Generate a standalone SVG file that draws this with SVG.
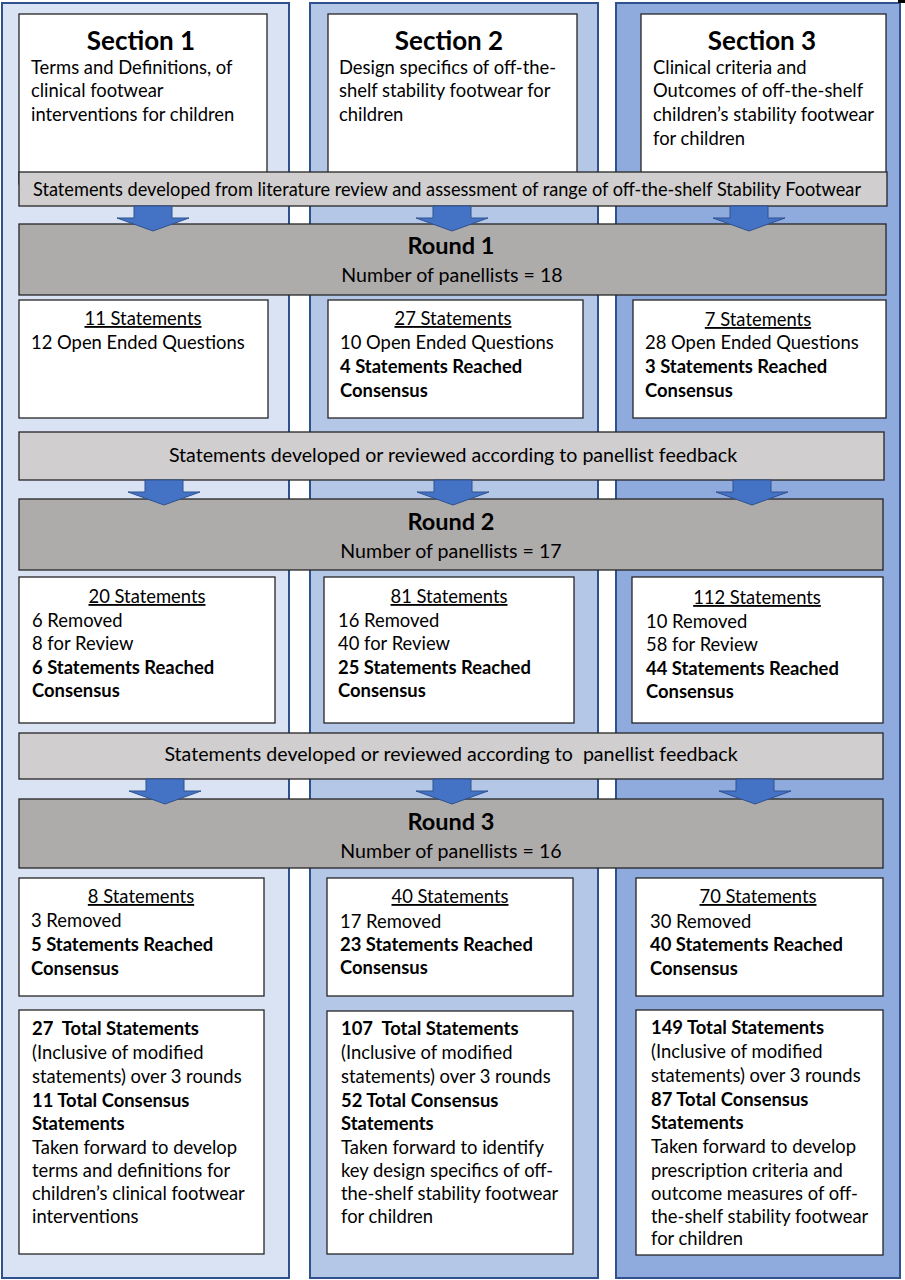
<svg xmlns="http://www.w3.org/2000/svg" width="905" height="1280" viewBox="0 0 905 1280">
<style>
.col{stroke:#2f528f;stroke-width:2}
.c1{fill:#dae3f3}.c2{fill:#b4c7e7}.c3{fill:#8faadc}
.box{fill:#fff;stroke:#262626;stroke-width:1.3}
.bar{fill:#d0cece;stroke:#262626;stroke-width:1.3}
.rnd{fill:#aeabab;stroke:#262626;stroke-width:1.3}
.arr{fill:#4472c4;stroke:#2f528f;stroke-width:1}
text{font-family:Lato,"Open Sans","Liberation Sans",sans-serif;font-size:18.4px;fill:#000}
.b{font-weight:bold}
.h{font-size:26px;font-weight:bold}
.r{font-size:23.5px;font-weight:bold}
.p{font-size:19.6px}
.u{text-decoration:underline}
.m{text-anchor:middle}
</style>
<g id="columns">
<rect class="col c1" x="2" y="3" width="287" height="1275"/>
<rect class="col c2" x="310" y="3" width="288" height="1275"/>
<rect class="col c3" x="616" y="3" width="284" height="1275"/>
<rect x="898" y="0" width="7" height="3" fill="#000"/>
</g>
<g id="section1">
<rect class="box" x="19" y="14" width="248" height="170"/>
<text class="h m" x="141" y="50">Section 1</text>
<text x="31" y="74">Terms and Definitions, of</text>
<text x="31" y="97">clinical footwear</text>
<text x="31" y="121">interventions for children</text>
</g>
<g id="section2">
<rect class="box" x="328" y="14" width="249" height="170"/>
<text class="h m" x="449" y="50">Section 2</text>
<text x="339" y="74">Design specifics of off-the-</text>
<text x="339" y="97">shelf stability footwear for</text>
<text x="339" y="121">children</text>
</g>
<g id="section3">
<rect class="box" x="641" y="14" width="245" height="170"/>
<text class="h m" x="762" y="50">Section 3</text>
<text x="653" y="74">Clinical criteria and</text>
<text x="653" y="97">Outcomes of off-the-shelf</text>
<text x="653" y="121">children’s stability footwear</text>
<text x="653" y="145">for children</text>
</g>
<g id="bar1">
<rect class="bar" x="19" y="172" width="868" height="34"/>
<text class="m" x="447" y="196" textLength="828" lengthAdjust="spacingAndGlyphs">Statements developed from literature review and assessment of range of off-the-shelf Stability Footwear</text>
</g>
<g id="round1">
<rect class="rnd" x="19" y="224" width="867" height="71"/>
<text class="r m" x="451" y="254">Round 1</text>
<text class="p m" x="452" y="282">Number of panellists = 18</text>
</g>
<g id="r1s1">
<rect class="box" x="19" y="300" width="249" height="118"/>
<text class="u m" x="143" y="325">11 Statements</text>
<text x="31" y="349">12 Open Ended Questions</text>
</g>
<g id="r1s2">
<rect class="box" x="328" y="300" width="255" height="118"/>
<text class="u m" x="453" y="325">27 Statements</text>
<text x="340" y="349">10 Open Ended Questions</text>
<text class="b" x="340" y="373">4 Statements Reached</text>
<text class="b" x="340" y="397">Consensus</text>
</g>
<g id="r1s3">
<rect class="box" x="633" y="300" width="253" height="118"/>
<text class="u m" x="758" y="326">7 Statements</text>
<text x="645" y="349">28 Open Ended Questions</text>
<text class="b" x="645" y="373">3 Statements Reached</text>
<text class="b" x="645" y="397">Consensus</text>
</g>
<g id="bar2">
<rect class="bar" x="19" y="432" width="865" height="48"/>
<text class="p m" x="453" y="462">Statements developed or reviewed according to panellist feedback</text>
</g>
<g id="round2">
<rect class="rnd" x="19" y="499" width="864" height="71"/>
<text class="r m" x="451" y="530">Round 2</text>
<text class="p m" x="451" y="558">Number of panellists = 17</text>
</g>
<g id="r2s1">
<rect class="box" x="19" y="577" width="256" height="146"/>
<text class="u m" x="147" y="603">20 Statements</text>
<text x="32" y="627">6 Removed</text>
<text x="32" y="650">8 for Review</text>
<text class="b" x="32" y="674">6 Statements Reached</text>
<text class="b" x="32" y="697">Consensus</text>
</g>
<g id="r2s2">
<rect class="box" x="324" y="577" width="250" height="146"/>
<text class="u m" x="449" y="603">81 Statements</text>
<text x="338" y="627">16 Removed</text>
<text x="338" y="650">40 for Review</text>
<text class="b" x="338" y="674">25 Statements Reached</text>
<text class="b" x="338" y="697">Consensus</text>
</g>
<g id="r2s3">
<rect class="box" x="632" y="577" width="251" height="146"/>
<text class="u m" x="757" y="604">112 Statements</text>
<text x="646" y="628">10 Removed</text>
<text x="646" y="651">58 for Review</text>
<text class="b" x="646" y="675">44 Statements Reached</text>
<text class="b" x="646" y="698">Consensus</text>
</g>
<g id="bar3">
<rect class="bar" x="19" y="733" width="864" height="46"/>
<text class="p m" x="451" y="761" xml:space="preserve">Statements developed or reviewed according to  panellist feedback</text>
</g>
<g id="round3">
<rect class="rnd" x="19" y="799" width="864" height="69"/>
<text class="r m" x="451" y="830">Round 3</text>
<text class="p m" x="451" y="858">Number of panellists = 16</text>
</g>
<g id="r3s1">
<rect class="box" x="19" y="878" width="245" height="118"/>
<text class="u m" x="141" y="903">8 Statements</text>
<text x="31" y="927">3 Removed</text>
<text class="b" x="31" y="951">5 Statements Reached</text>
<text class="b" x="31" y="975">Consensus</text>
</g>
<g id="r3s2">
<rect class="box" x="327" y="878" width="246" height="118"/>
<text class="u m" x="450" y="903">40 Statements</text>
<text x="340" y="928">17 Removed</text>
<text class="b" x="340" y="951">23 Statements Reached</text>
<text class="b" x="340" y="974">Consensus</text>
</g>
<g id="r3s3">
<rect class="box" x="636" y="878" width="247" height="118"/>
<text class="u m" x="758" y="903">70 Statements</text>
<text x="650" y="928">30 Removed</text>
<text class="b" x="650" y="951">40 Statements Reached</text>
<text class="b" x="650" y="975">Consensus</text>
</g>
<g id="total1">
<rect class="box" x="19" y="1010" width="245" height="244"/>
<text class="b" x="32" y="1035" xml:space="preserve">27  Total Statements</text>
<text x="32" y="1059">(Inclusive of modified</text>
<text x="32" y="1083">statements) over 3 rounds</text>
<text class="b" x="32" y="1107">11 Total Consensus</text>
<text class="b" x="32" y="1130">Statements</text>
<text x="32" y="1154">Taken forward to develop</text>
<text x="32" y="1177">terms and definitions for</text>
<text x="32" y="1200">children’s clinical footwear</text>
<text x="32" y="1223">interventions</text>
</g>
<g id="total2">
<rect class="box" x="327" y="1011" width="246" height="243"/>
<text class="b" x="341" y="1035" xml:space="preserve">107  Total Statements</text>
<text x="341" y="1059">(Inclusive of modified</text>
<text x="341" y="1083">statements) over 3 rounds</text>
<text class="b" x="341" y="1107">52 Total Consensus</text>
<text class="b" x="341" y="1130">Statements</text>
<text x="341" y="1154">Taken forward to identify</text>
<text x="341" y="1177">key design specifics of off-</text>
<text x="341" y="1200">the-shelf stability footwear</text>
<text x="341" y="1223">for children</text>
</g>
<g id="total3">
<rect class="box" x="636" y="1010" width="247" height="245"/>
<text class="b" x="651" y="1034">149 Total Statements</text>
<text x="651" y="1058">(Inclusive of modified</text>
<text x="651" y="1082">statements) over 3 rounds</text>
<text class="b" x="651" y="1106">87 Total Consensus</text>
<text class="b" x="651" y="1129">Statements</text>
<text x="651" y="1153">Taken forward to develop</text>
<text x="651" y="1177">prescription criteria and</text>
<text x="651" y="1200">outcome measures of off-</text>
<text x="651" y="1223">the-shelf stability footwear</text>
<text x="651" y="1245">for children</text>
</g>
<g id="connectors">
<defs><path id="a1" d="M-19 0 H19 V12 H36 L0 25 L-36 12 H-19 Z"/></defs>
<use href="#a1" class="arr" x="153" y="206"/>
<use href="#a1" class="arr" x="452" y="206"/>
<use href="#a1" class="arr" x="749" y="206"/>
<use href="#a1" class="arr" x="164" y="480"/>
<use href="#a1" class="arr" x="453" y="480"/>
<use href="#a1" class="arr" x="752" y="480"/>
<use href="#a1" class="arr" x="165" y="779"/>
<use href="#a1" class="arr" x="452" y="779"/>
<use href="#a1" class="arr" x="755" y="779"/>
</g>
</svg>
